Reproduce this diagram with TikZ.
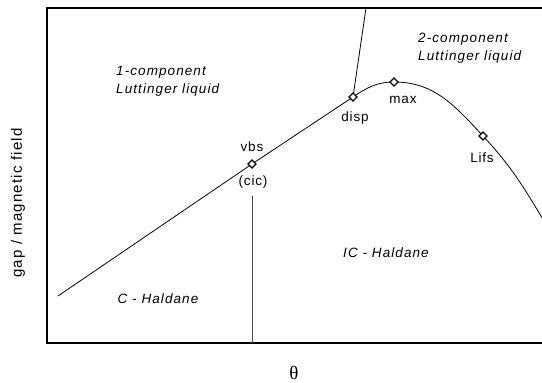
\documentclass[tikz,border=0pt]{standalone}
\usepackage{fontspec}
\setmainfont{Liberation Sans}
\newfontfamily\thetafont{Liberation Serif}
\usetikzlibrary{shapes.geometric}
\tikzset{
  lbl/.style={font=\fontsize{13.5}{18}\selectfont\addfontfeature{LetterSpace=6}, inner sep=0pt},
  phase/.style={lbl, font=\fontsize{13.5}{18}\selectfont\itshape\addfontfeature{LetterSpace=8}, align=left},
  pt/.style={diamond, draw, fill=white, line width=1.3pt, minimum size=8.5pt, inner sep=0pt},
  frame/.style={line width=1.3pt},
  curve/.style={line width=0.8pt},
}
\begin{document}
\begin{tikzpicture}[x=1pt,y=1pt]
\useasboundingbox (0,0) rectangle (542,383);
% frame
\draw[frame] (543,375) -- (47,375) -- (47,40) -- (543,40);
% points
\coordinate (start) at (58,87);
\coordinate (vbs) at (252,219);
\coordinate (disp) at (353,286);
\coordinate (max) at (394,301);
\coordinate (lifs) at (483,247);
\coordinate (end) at (544,162);
\coordinate (top) at (366,375);
\coordinate (bot) at (252,40);
\coordinate (vtop) at (252,187);
% lines
\draw[curve] (start) -- (vbs) -- (disp) to[out=34,in=180] (max) to[out=0,in=133] (lifs) to[out=-47,in=121] (end);
\draw[curve] (disp) -- (top);
\draw[line width=0.8pt, black!70] (vtop) -- (bot);
% markers
\node[pt] (m1) at (vbs) {};
\node[pt] (m2) at (disp) {};
\node[pt] (m3) at (max) {};
\node[pt] (m4) at (lifs) {};
% labels
\node[lbl] (lvbs) at (252,236) {vbs};
\node[lbl] (lcic) at (253,201) {(cic)};
\node[lbl] (ldisp) at (355,265) {disp};
\node[lbl] (lmax) at (403,283) {max};
\node[lbl] (llifs) at (482,225) {Lifs};
\node[phase, anchor=west] (one) at (116,302) {1-component\\Luttinger liquid};
\node[phase, anchor=west] (two) at (418,335) {2-component\\Luttinger liquid};
\node[phase] (ch) at (158,84) {C - Haldane};
\node[phase] (ich) at (386,130) {IC - Haldane};
\node[inner sep=0pt, font=\fontsize{19}{20}\selectfont\thetafont] (theta) at (294,10) {θ};
\node[lbl, rotate=90, font=\fontsize{15}{18}\selectfont\addfontfeature{LetterSpace=8}] (ylab) at (18,180) {gap / magnetic field};
\end{tikzpicture}
\end{document}
